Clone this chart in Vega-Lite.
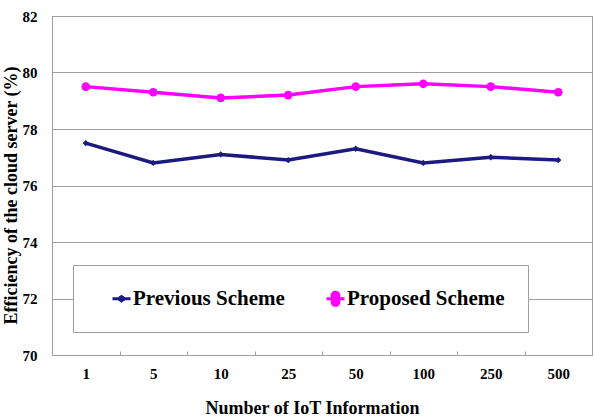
{
  "$schema": "https://vega.github.io/schema/vega-lite/v6.json",
  "width": 540,
  "height": 339,
  "autosize": {"type": "none"},
  "padding": {"left": 52, "top": 16, "right": 3, "bottom": 65},
  "background": "white",
  "config": {
    "view": {"stroke": "#a0a0a0", "strokeWidth": 1},
    "font": "Liberation Serif"
  },
  "data": {
    "values": [
      {"n": "1", "series": "Previous Scheme", "eff": 77.5},
      {"n": "5", "series": "Previous Scheme", "eff": 76.8},
      {"n": "10", "series": "Previous Scheme", "eff": 77.1},
      {"n": "25", "series": "Previous Scheme", "eff": 76.9},
      {"n": "50", "series": "Previous Scheme", "eff": 77.3},
      {"n": "100", "series": "Previous Scheme", "eff": 76.8},
      {"n": "250", "series": "Previous Scheme", "eff": 77.0},
      {"n": "500", "series": "Previous Scheme", "eff": 76.9},
      {"n": "1", "series": "Proposed Scheme", "eff": 79.5},
      {"n": "5", "series": "Proposed Scheme", "eff": 79.3},
      {"n": "10", "series": "Proposed Scheme", "eff": 79.1},
      {"n": "25", "series": "Proposed Scheme", "eff": 79.2},
      {"n": "50", "series": "Proposed Scheme", "eff": 79.5},
      {"n": "100", "series": "Proposed Scheme", "eff": 79.6},
      {"n": "250", "series": "Proposed Scheme", "eff": 79.5},
      {"n": "500", "series": "Proposed Scheme", "eff": 79.3}
    ]
  },
  "encoding": {
    "x": {
      "field": "n",
      "type": "ordinal",
      "sort": ["1", "5", "10", "25", "50", "100", "250", "500"],
      "scale": {"type": "band", "paddingInner": 0, "paddingOuter": 0},
      "axis": {
        "title": "Number of IoT Information",
        "titleFont": "Liberation Serif",
        "titleFontSize": 18,
        "titleFontWeight": "bold",
        "titleColor": "black",
        "titleX": 260,
        "titleY": 53,
        "titleBaseline": "middle",
        "labelFont": "Liberation Serif",
        "labelFontSize": 15,
        "labelFontWeight": "bold",
        "labelColor": "black",
        "labelAngle": 0,
        "labelPadding": 15,
        "tickBand": "extent",
        "tickSize": -4,
        "tickColor": "#a0a0a0",
        "domainColor": "#a0a0a0",
        "grid": false
      }
    },
    "y": {
      "field": "eff",
      "type": "quantitative",
      "scale": {"domain": [70, 82], "nice": false, "zero": false},
      "axis": {
        "values": [70, 72, 74, 76, 78, 80, 82],
        "title": "Efficiency of the cloud server (%)",
        "titleFont": "Liberation Serif",
        "titleFontSize": 18,
        "titleFontWeight": "bold",
        "titleColor": "black",
        "titleAngle": -90,
        "titleX": -41,
        "titleY": 179,
        "titleAlign": "center",
        "titleBaseline": "middle",
        "labelFont": "Liberation Serif",
        "labelFontSize": 15,
        "labelFontWeight": "bold",
        "labelColor": "black",
        "labelPadding": 15,
        "ticks": false,
        "domainColor": "#a0a0a0",
        "grid": true,
        "gridColor": "#a0a0a0"
      }
    },
    "color": {
      "field": "series",
      "type": "nominal",
      "scale": {"domain": ["Previous Scheme", "Proposed Scheme"], "range": ["#1a1a80", "#ff00ff"]},
      "legend": null
    }
  },
  "layer": [
    {
      "mark": {"type": "line", "strokeWidth": 3.5}
    },
    {
      "mark": {"type": "point", "filled": true, "opacity": 1},
      "encoding": {
        "shape": {
          "field": "series",
          "type": "nominal",
          "scale": {"domain": ["Previous Scheme", "Proposed Scheme"], "range": ["diamond", "circle"]},
          "legend": null
        },
        "size": {
          "field": "series",
          "type": "nominal",
          "scale": {"domain": ["Previous Scheme", "Proposed Scheme"], "range": [40, 75]},
          "legend": null
        }
      }
    },
    {
      "transform": [{"filter": "datum.eff < 0"}],
      "mark": {"type": "point", "filled": true, "opacity": 1},
      "encoding": {
        "color": {
          "field": "series",
          "type": "nominal",
          "legend": {
            "orient": "none",
            "legendX": 21,
            "legendY": 249,
            "direction": "horizontal",
            "title": null,
            "padding": 23,
            "fillColor": "white",
            "strokeColor": "#a0a0a0",
            "labelFont": "Liberation Serif",
            "labelFontSize": 21,
            "labelFontWeight": "bold",
            "labelColor": "black",
            "symbolSize": 324,
            "symbolOffset": 15,
            "columnPadding": 25,
            "labelOffset": 1
          }
        },
        "shape": {
          "field": "series",
          "type": "nominal",
          "scale": {"domain": ["Previous Scheme", "Proposed Scheme"], "range": ["M-1,-0.17H-0.4L0,-0.45L0.4,-0.17H1V0.17H0.4L0,0.45L-0.4,0.17H-1Z", "M-1,-0.17H-0.52A0.55,0.55 0 1 1 0.52,-0.17H1V0.17H0.52A0.55,0.55 0 1 1 -0.52,0.17H-1Z"]},
          "legend": {
            "orient": "none",
            "legendX": 21,
            "legendY": 249,
            "direction": "horizontal",
            "title": null,
            "padding": 23,
            "fillColor": "white",
            "strokeColor": "#a0a0a0",
            "labelFont": "Liberation Serif",
            "labelFontSize": 21,
            "labelFontWeight": "bold",
            "labelColor": "black",
            "symbolSize": 324,
            "symbolOffset": 15,
            "columnPadding": 25,
            "labelOffset": 1
          }
        }
      }
    }
  ],
  "resolve": {"scale": {"shape": "independent"}, "legend": {"shape": "independent", "color": "independent"}}
}
